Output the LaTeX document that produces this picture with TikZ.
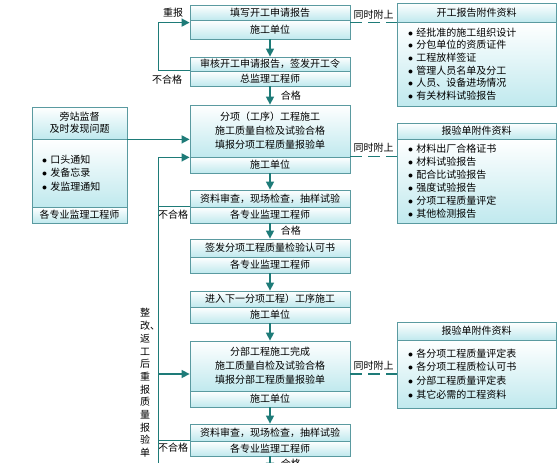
\documentclass[tikz,border=0pt]{standalone}
\usepackage{fontspec}
\setmainfont{Noto Sans CJK SC}
\usepackage{xcolor}
\usetikzlibrary{arrows.meta}

\definecolor{boxline}{RGB}{90,154,160}
\definecolor{boxfill}{RGB}{192,233,238}
\definecolor{flowcol}{RGB}{30,123,120}

\tikzset{
  part/.style={shape=rectangle, draw=boxline, line width=0.8pt, top color=white, bottom color=boxfill, inner sep=0pt, align=center, font=\fontsize{10}{14}\selectfont},
  mainpart/.style={part, minimum width=160},
  sidepart/.style={part, minimum width=159},
  listpart/.style={part, align=left, text width=137, inner xsep=11},
  lbl/.style={inner sep=1pt, font=\fontsize{10}{12}\selectfont},
  flow/.style={draw=flowcol, line width=1.5pt, -{Triangle[length=8pt,width=8pt]}},
  loopline/.style={draw=flowcol, line width=1.2pt},
  attach/.style={draw=flowcol, line width=1.5pt, dash pattern=on 12pt off 6pt}
}

\begin{document}
\begin{tikzpicture}[x=1pt,y=-1pt]
\useasboundingbox (0,0) rectangle (560,463);
\clip (0,0) rectangle (560,463);

% main column
\node[mainpart, minimum height=15] (b1t) at (270,12.5) {填写开工申请报告};
\node[mainpart, minimum height=19] (b1r) at (270,29.5) {施工单位};
\node[mainpart, minimum height=14] (b2t) at (270,64) {审核开工申请报告，签发开工令};
\node[mainpart, minimum height=15] (b2r) at (270,78.5) {总监理工程师};
\node[mainpart, minimum height=52] (b3t) at (270,131) {分项（工序）工程施工\\施工质量自检及试验合格\\填报分项工程质量报验单};
\node[mainpart, minimum height=16] (b3r) at (270,165) {施工单位};
\node[mainpart, minimum height=17] (b4t) at (270,198.5) {资料审查，现场检查，抽样试验};
\node[mainpart, minimum height=16] (b4r) at (270,215) {各专业监理工程师};
\node[mainpart, minimum height=18] (b5t) at (270,248) {签发分项工程质量检验认可书};
\node[mainpart, minimum height=16] (b5r) at (270,265) {各专业监理工程师};
\node[mainpart, minimum height=16] (b6t) at (270,299) {进入下一分项工程）工序施工};
\node[mainpart, minimum height=16] (b6r) at (270,315) {施工单位};
\node[mainpart, minimum height=50] (b7t) at (270,366) {分部工程施工完成\\施工质量自检及试验合格\\填报分部工程质量报验单};
\node[mainpart, minimum height=16] (b7r) at (270,399) {施工单位};
\node[mainpart, minimum height=17] (b8t) at (270,432.5) {资料审查，现场检查，抽样试验};
\node[mainpart, minimum height=15] (b8r) at (270,448.5) {各专业监理工程师};

% side watch box
\node[part, minimum width=95, minimum height=32, font=\fontsize{10}{12}\selectfont] (lt) at (79.5,123) {旁站监督\\及时发现问题};
\node[part, align=left, text width=75, inner xsep=10, minimum height=68, font=\fontsize{10}{13.5}\selectfont] (lm) at (79.5,173) {$\bullet$ 口头通知\\$\bullet$ 发备忘录\\$\bullet$ 发监理通知};
\node[part, minimum width=95, minimum height=16] (lb) at (79.5,215) {各专业监理工程师};

% attachment boxes
\node[sidepart, minimum height=19] (r1t) at (476.5,12.5) {开工报告附件资料};
\node[listpart, minimum height=84, font=\fontsize{10}{12.6}\selectfont] (r1b) at (476.5,64) {$\bullet$ 经批准的施工组织设计\\$\bullet$ 分包单位的资质证件\\$\bullet$ 工程放样签证\\$\bullet$ 管理人员名单及分工\\$\bullet$ 人员、设备进场情况\\$\bullet$ 有关材料试验报告};
\node[sidepart, minimum height=16] (r2t) at (476.5,131) {报验单附件资料};
\node[listpart, minimum height=84, font=\fontsize{10}{13}\selectfont] (r2b) at (476.5,181) {$\bullet$ 材料出厂合格证书\\$\bullet$ 材料试验报告\\$\bullet$ 配合比试验报告\\$\bullet$ 强度试验报告\\$\bullet$ 分项工程质量评定\\$\bullet$ 其他检测报告};
\node[sidepart, minimum height=18] (r3t) at (476.5,331) {报验单附件资料};
\node[listpart, minimum height=68, font=\fontsize{10}{13.7}\selectfont] (r3b) at (476.5,374) {$\bullet$ 各分项工程质量评定表\\$\bullet$ 各分项工程质检认可书\\$\bullet$ 分部工程质量评定表\\$\bullet$ 其它必需的工程资料};

% labels
\node[lbl] (chongbao) at (173,13) {重报};
\node[lbl] (bhg1) at (167,80) {不合格};
\node[lbl] (bhg2) at (173,215) {不合格};
\node[lbl] (bhg3) at (173,448) {不合格};
\node[lbl, align=center, font=\fontsize{10}{12.7}\selectfont] (redo) at (145,383) {整\\改\rlap{、}\\返\\工\\后\\重\\报\\质\\量\\报\\验\\单};

% flow down
\draw[flow] (b1r) -- (b2t);
\draw[flow] (b2r) -- node[lbl, right=9pt] {合格} (b3t);
\draw[flow] (b3r) -- (b4t);
\draw[flow] (b4r) -- node[lbl, right=9pt] {合格} (b5t);
\draw[flow] (b5r) -- (b6t);
\draw[flow] (b6r) -- (b7t);
\draw[flow] (b7r) -- (b8t);
\draw[flow] (b8r) -- ++(0,22) node[lbl, pos=0.5, right=9pt] {合格};

% feedback loops
\draw[loopline] (b2r.north west) -- ++(-31,0) coordinate (l2);
\draw[flow] (l2) |- ([yshift=-3pt]b1r.north west);
\draw[loopline] (b4r.north west) -- ++(-31,0) coordinate (l4);
\draw[loopline] (b8r.north west) -- ++(-31,0) coordinate (l8);
\draw[flow] (l4) |- (b3t.south west);
\draw[loopline] (l4) -- (l8) -- ++(0,30);
\coordinate (b7in) at ([yshift=-8pt]b7t.west);
\draw[flow] (b7in -| l4) -- (b7in);
\draw[flow] (lt.south east) -- (lt.south east -| b3t.west);

% attachments
\draw[attach] ([yshift=-3pt]b1r.north east) -- node[lbl, above=2pt] {同时附上} ([yshift=-3pt]b1r.north east -| r1b.west);
\draw[attach] ([yshift=1pt]b3t.south east) -- node[lbl, above=2pt] {同时附上} ([yshift=1pt]b3t.south east -| r2b.west);
\draw[attach] (b7in -| b7t.east) -- node[lbl, above=2pt] {同时附上} (b7in -| r3b.west);
\end{tikzpicture}
\end{document}
